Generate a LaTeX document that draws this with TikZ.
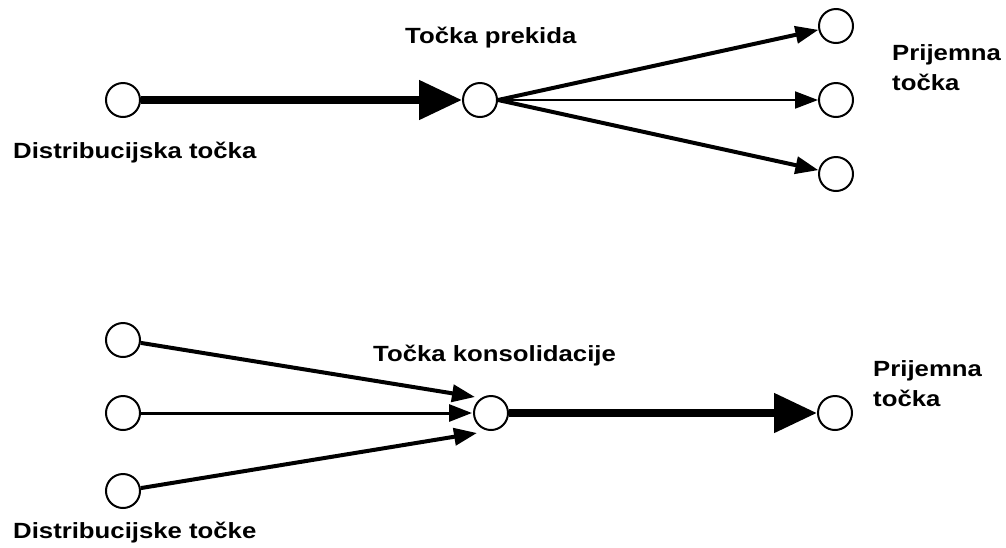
\documentclass[tikz,border=0pt]{standalone}
\usepackage{fontspec}
\setmainfont{Liberation Sans}[FakeStretch=1.17]
\usetikzlibrary{arrows.meta}
\begin{document}
\begin{tikzpicture}[x=1pt,y=-1pt,
  pt/.style={circle,draw,line width=2pt,minimum size=34pt,inner sep=0pt,fill=white},
  lbl/.style={anchor=base west,inner sep=0pt,font=\bfseries\fontsize{22}{30}\selectfont,align=left},
  bigarrow/.style={line width=8pt,-{Triangle[length=43pt,width=38pt]}},
  medarrow/.style={line width=4pt,-{Triangle[length=23pt,width=17pt]}},
  thinarrow/.style={line width=2pt,-{Triangle[length=23pt,width=17pt]}},
  midarrow/.style={line width=3pt,-{Triangle[length=23pt,width=17pt]}}]
\useasboundingbox (0,0) rectangle (1006,547);
% top diagram
\node[pt] (d) at (123,100) {};
\node[pt] (p) at (480,100) {};
\node[pt] (r1) at (836,26) {};
\node[pt] (r2) at (836,100) {};
\node[pt] (r3) at (836,174) {};
\draw[bigarrow] (d) -- (p);
\draw[medarrow] (p.east) -- (r1);
\draw[thinarrow] (p.east) -- (r2);
\draw[medarrow] (p.east) -- (r3);
\node[lbl] (tp) at (405,43) {Točka prekida};
\node[lbl] (dt) at (13,158) {Distribucijska točka};
\node[lbl] (pt1) at (892,90) {Prijemna\\točka};
% bottom diagram
\node[pt] (l1) at (123,340) {};
\node[pt] (l2) at (123,413) {};
\node[pt] (l3) at (123,491) {};
\node[pt] (c) at (491,413) {};
\node[pt] (q) at (835,413) {};
\coordinate (ct) at (475,397);
\coordinate (cm) at (472,413);
\coordinate (cb) at (477,433);
\draw[medarrow] (l1) -- (ct);
\draw[midarrow] (l2) -- (cm);
\draw[medarrow] (l3) -- (cb);
\draw[bigarrow] (c) -- (q);
\node[lbl] (tk) at (373,361) {Točka konsolidacije};
\node[lbl] (pt2) at (873,406) {Prijemna\\točka};
\node[lbl] (ds) at (13,538) {Distribucijske točke};
\end{tikzpicture}
\end{document}
